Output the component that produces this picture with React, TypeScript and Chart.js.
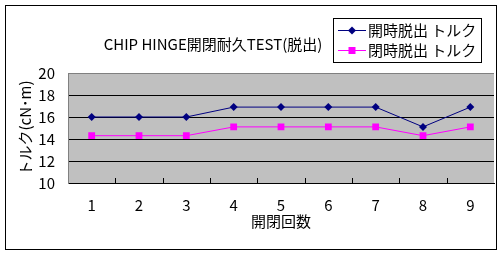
import React, { useEffect, useRef } from "react";
import { Chart, registerables } from "chart.js";

Chart.register(...registerables);

const chartTitle = "CHIP HINGE開閉耐久TEST(脱出)";
const categories = ["1", "2", "3", "4", "5", "6", "7", "8", "9"];
const seriesNames = ["開時脱出 トルク", "閉時脱出 トルク"];
const openTorque = [16, 16, 16, 16.9, 16.9, 16.9, 16.9, 15.1, 16.9];
const closeTorque = [14.3, 14.3, 14.3, 15.1, 15.1, 15.1, 15.1, 14.3, 15.1];
const xTitle = "開閉回数";
const yTitle = "トルク(cN･m)";
const yMin = 10;
const yMax = 20;
const yStep = 2;

const FONT = '"Noto Sans CJK JP", "Noto Sans", sans-serif';
const NAVY = "#000080";
const MAGENTA = "#ff00ff";

const decorPlugin = {
  id: "decor",
  beforeDraw(chart: any) {
    const { ctx, chartArea, width, height } = chart;
    ctx.save();
    ctx.fillStyle = "#ffffff";
    ctx.fillRect(0, 0, width, height);
    ctx.fillStyle = "#c0c0c0";
    ctx.fillRect(chartArea.left, chartArea.top, chartArea.right - chartArea.left, chartArea.bottom - chartArea.top);
    ctx.restore();
  },
  beforeDatasetsDraw(chart: any) {
    const { ctx, chartArea } = chart;
    const xs = chart.scales.x;
    ctx.save();
    ctx.strokeStyle = "#000";
    ctx.lineWidth = 1;
    ctx.beginPath();
    for (let i = 0; i < categories.length - 1; i++) {
      const x = Math.round((xs.getPixelForValue(i) + xs.getPixelForValue(i + 1)) / 2) + 0.5;
      ctx.moveTo(x, chartArea.bottom);
      ctx.lineTo(x, chartArea.bottom - 5);
    }
    ctx.stroke();
    ctx.restore();
  },
  afterDraw(chart: any) {
    const { ctx, chartArea } = chart;
    ctx.save();
    // outer frame
    ctx.strokeStyle = "#000";
    ctx.lineWidth = 1;
    ctx.strokeRect(5.5, 5.5, 491, 244);

    // title
    ctx.fillStyle = "#000";
    ctx.font = `15px ${FONT}`;
    ctx.textAlign = "center";
    ctx.textBaseline = "middle";
    ctx.fillText(chartTitle, 213, 44);

    // x title
    ctx.font = `15px ${FONT}`;
    ctx.fillText(xTitle, (chartArea.left + chartArea.right) / 2, 221);

    // y title
    ctx.save();
    ctx.translate(25, (chartArea.top + chartArea.bottom) / 2);
    ctx.rotate(-Math.PI / 2);
    ctx.font = `15px ${FONT}`;
    ctx.fillText(yTitle, 0, 0);
    ctx.restore();

    // legend
    ctx.fillStyle = "#fff";
    ctx.fillRect(333, 18, 148, 44);
    ctx.strokeStyle = "#000";
    ctx.strokeRect(333.5, 18.5, 148, 44);
    const rows = [30.5, 50.5];
    const colors = [NAVY, MAGENTA];
    rows.forEach((y, i) => {
      ctx.strokeStyle = colors[i];
      ctx.fillStyle = colors[i];
      ctx.lineWidth = 1;
      ctx.beginPath();
      ctx.moveTo(338, y);
      ctx.lineTo(366, y);
      ctx.stroke();
      const cx = 352;
      ctx.beginPath();
      if (i === 0) {
        ctx.moveTo(cx, y - 4);
        ctx.lineTo(cx + 4, y);
        ctx.lineTo(cx, y + 4);
        ctx.lineTo(cx - 4, y);
        ctx.closePath();
      } else {
        ctx.rect(cx - 3.5, y - 3.5, 7, 7);
      }
      ctx.fill();
      ctx.fillStyle = "#000";
      ctx.font = `15px ${FONT}`;
      ctx.textAlign = "left";
      ctx.textBaseline = "middle";
      ctx.fillText(seriesNames[i], 368, y);
    });
    ctx.restore();
  },
};

export default function App() {
  const ref = useRef<HTMLCanvasElement | null>(null);
  useEffect(() => {
    if (!ref.current) return;
    const chart = new Chart(ref.current, {
      type: "line",
      data: {
        labels: categories,
        datasets: [
          {
            label: seriesNames[0],
            data: openTorque,
            borderColor: NAVY,
            backgroundColor: NAVY,
            borderWidth: 1,
            pointStyle: "rectRot",
            pointRadius: 4,
            pointBorderWidth: 0,
            tension: 0,
          },
          {
            label: seriesNames[1],
            data: closeTorque,
            borderColor: MAGENTA,
            backgroundColor: MAGENTA,
            borderWidth: 1,
            pointStyle: "rect",
            pointRadius: 4.8,
            pointBorderWidth: 0,
            tension: 0,
          },
        ],
      },
      options: {
        responsive: false,
        animation: false,
        layout: { padding: { top: 73, right: 8, left: 0, bottom: 0 } },
        plugins: {
          legend: { display: false },
          title: { display: false },
          tooltip: { enabled: false },
        },
        scales: {
          x: {
            type: "category",
            offset: true,
            grid: { display: false, drawTicks: false },
            border: { display: true, color: "#000", width: 1 },
            ticks: { color: "#000", font: { size: 15, family: FONT }, padding: 13, maxRotation: 0 },
            afterFit: (s: any) => {
              s.height = 72;
            },
          },
          y: {
            min: yMin,
            max: yMax,
            ticks: { stepSize: yStep, color: "#000", font: { size: 15, family: FONT }, padding: 13 },
            grid: {
              drawTicks: false,
              color: (c: any) => (c.tick && c.tick.value === yMax ? "#808080" : "#000"),
              lineWidth: 1,
            },
            border: { display: true, color: "#808080", width: 1 },
            afterFit: (s: any) => {
              s.width = 68;
            },
          },
        },
      },
      plugins: [decorPlugin],
    });
    return () => chart.destroy();
  }, []);
  return (
    <div style={{ position: "absolute", left: 0, top: 0, width: 502, height: 255 }}>
      <canvas ref={ref} width={502} height={255} />
    </div>
  );
}
